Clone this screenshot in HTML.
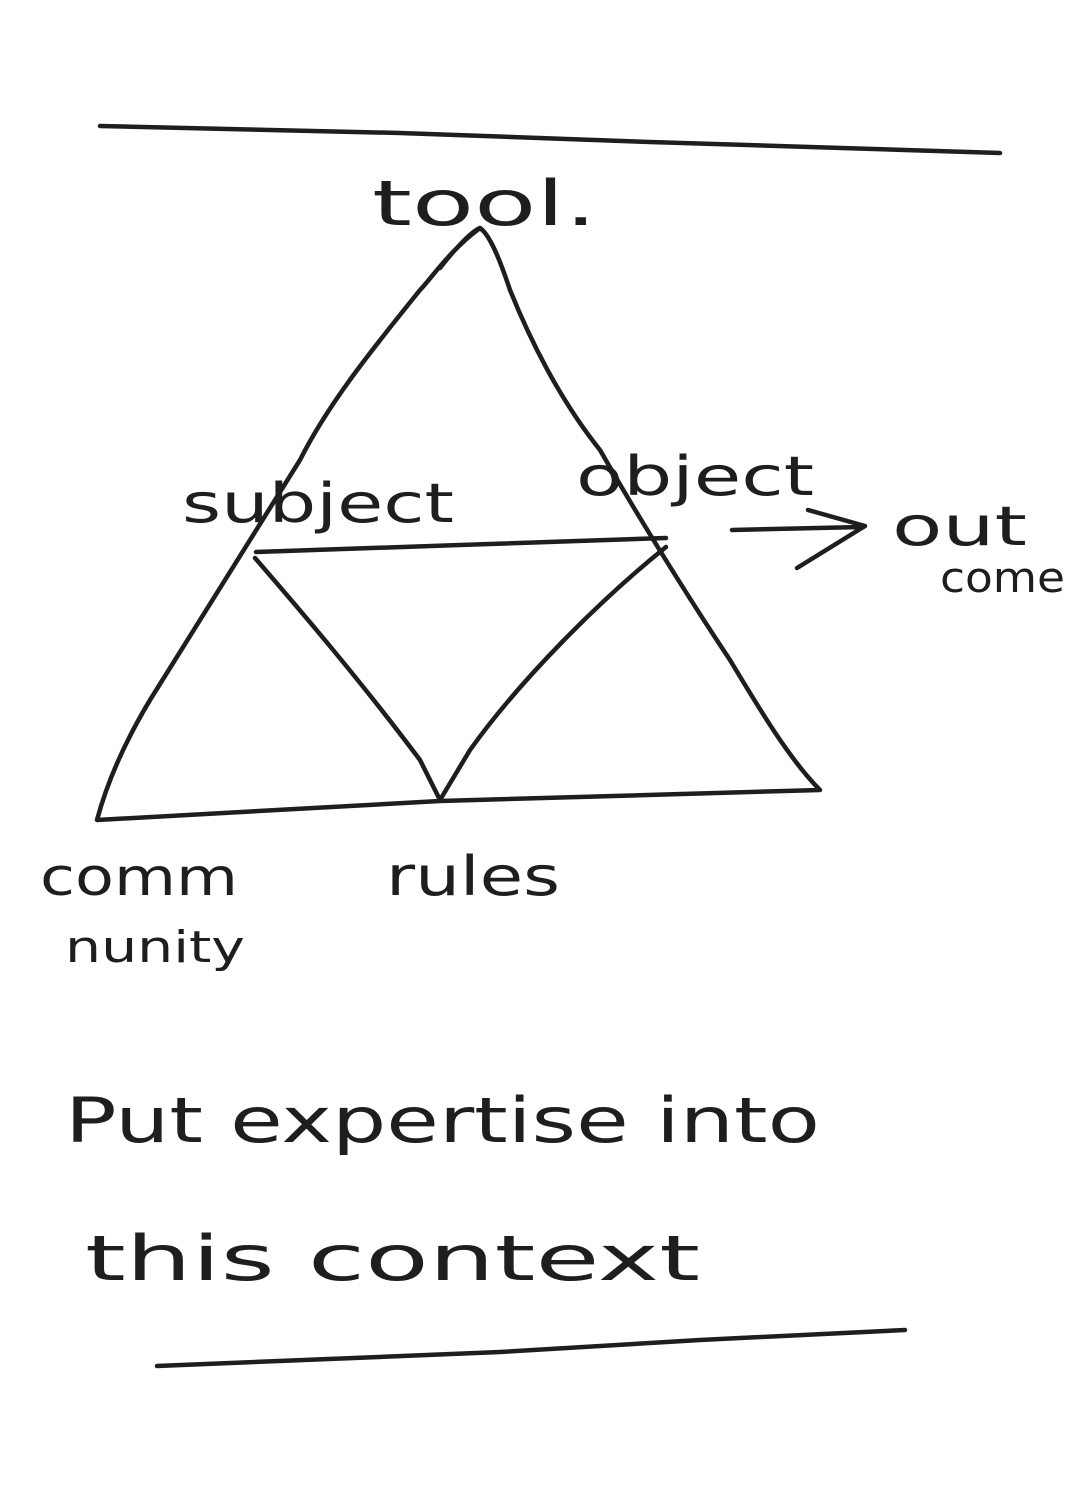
<!DOCTYPE html>
<html><head><meta charset="utf-8">
<style>
html,body{margin:0;padding:0;background:#fff;}
svg{display:block;}
text{font-family:"DejaVu Sans","Liberation Sans",sans-serif;fill:#1e1e1e;}
</style></head>
<body>
<svg width="1080" height="1491" viewBox="0 0 1080 1491">
<g fill="none" stroke="#1e1e1e" stroke-width="4.5" stroke-linecap="round" stroke-linejoin="round">
<path d="M100 126 L400 133 L650 142 L1000 153"/>
<path d="M480 228 C450 250 430 280 420 290 C380 340 330 400 300 460 C250 540 200 620 150 700 C120 750 105 790 97 820 L440 801 L820 790 C790 760 760 710 730 660 C690 600 640 520 600 450 C560 400 530 340 510 290 C500 260 490 235 480 228 C470 232 450 255 440 268"/>
<path d="M256 552 L460 545 L666 538"/>
<path d="M255 558 C300 610 360 680 420 760 L440 800"/>
<path d="M666 547 C600 600 520 680 470 750 L440 800"/>
<path d="M732 530 L862 527 M808 510 L865 526 L797 568"/>
<path d="M157 1366 L500 1352 L700 1340 L905 1330"/>
</g>
<text x="372" y="225" font-size="62" textLength="225" lengthAdjust="spacingAndGlyphs">tool.</text>
<text x="182" y="522" font-size="54" textLength="272" lengthAdjust="spacingAndGlyphs">subject</text>
<text x="576" y="495" font-size="54" textLength="238" lengthAdjust="spacingAndGlyphs">object</text>
<text x="892" y="545" font-size="54" textLength="135" lengthAdjust="spacingAndGlyphs">out</text>
<text x="940" y="592" font-size="42" textLength="125" lengthAdjust="spacingAndGlyphs">come</text>
<text x="40" y="895" font-size="52" textLength="198" lengthAdjust="spacingAndGlyphs">comm</text>
<text x="65" y="962" font-size="44" textLength="180" lengthAdjust="spacingAndGlyphs">nunity</text>
<text x="386" y="895" font-size="54" textLength="174" lengthAdjust="spacingAndGlyphs">rules</text>
<text x="65" y="1142" font-size="62" textLength="755" lengthAdjust="spacingAndGlyphs">Put expertise into</text>
<text x="85" y="1280" font-size="62" textLength="615" lengthAdjust="spacingAndGlyphs">this context</text>
</svg>
</body></html>
